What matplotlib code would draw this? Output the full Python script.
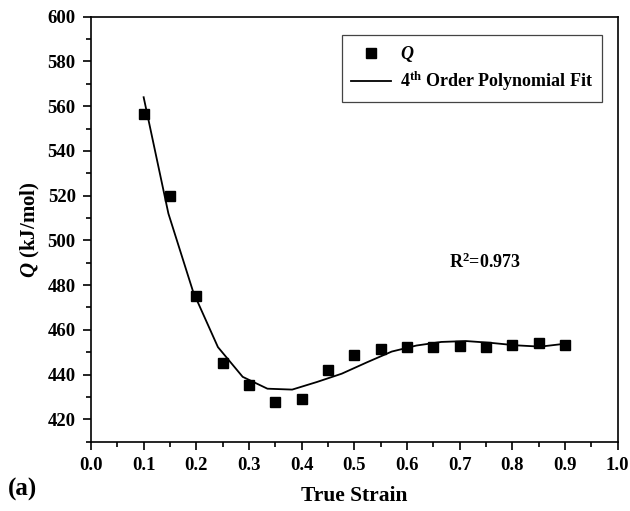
import numpy as np
import matplotlib
matplotlib.use("Agg")
import matplotlib.pyplot as plt
from matplotlib.ticker import MultipleLocator, FormatStrFormatter
from matplotlib.lines import Line2D

plt.rcParams['font.family'] = ['Liberation Serif', 'DejaVu Serif']
plt.rcParams['font.weight'] = 'bold'
plt.rcParams['mathtext.fontset'] = 'custom'
plt.rcParams['mathtext.rm'] = 'Liberation Serif:bold'
plt.rcParams['mathtext.bf'] = 'Liberation Serif:bold'
plt.rcParams['mathtext.it'] = 'Liberation Serif:bold:italic'

# measured Q values
strain = [0.10, 0.15, 0.20, 0.25, 0.30, 0.35, 0.40, 0.45, 0.50,
          0.55, 0.60, 0.65, 0.70, 0.75, 0.80, 0.85, 0.90]
q_vals = [556.5, 520.0, 475.0, 445.2, 435.4, 427.9, 428.9, 441.9, 448.8,
          451.6, 452.5, 452.5, 452.6, 452.5, 453.4, 454.3, 453.4]

# 4th order polynomial fit curve (as drawn)
fit_x = [0.100, 0.147, 0.194, 0.241, 0.288, 0.335, 0.382, 0.429, 0.476,
         0.524, 0.571, 0.618, 0.665, 0.712, 0.759, 0.806, 0.853, 0.900]
fit_y = [564.0, 512.0, 477.0, 452.3, 439.0, 433.7, 433.3, 436.7, 440.4,
         445.5, 450.3, 453.0, 454.6, 455.0, 454.2, 453.1, 452.5, 453.8]

fig = plt.figure(figsize=(6.3, 5.11), dpi=100)
ax = fig.add_axes([0.1444, 0.1356, 0.8361, 0.8317])

ax.plot(fit_x, fit_y, color='black', lw=1.3, zorder=2)
ax.plot(strain, q_vals, 's', color='black', ms=7, zorder=3)

ax.set_xlim(0.0, 1.0)
ax.set_ylim(410, 600)
ax.xaxis.set_major_locator(MultipleLocator(0.1))
ax.xaxis.set_minor_locator(MultipleLocator(0.05))
ax.yaxis.set_minor_locator(MultipleLocator(10))
ax.set_yticks(np.arange(420, 601, 20))
ax.xaxis.set_major_formatter(FormatStrFormatter('%.1f'))

ax.tick_params(which='major', direction='out', length=6, width=1.2,
               labelsize=13.5, pad=5)
ax.tick_params(which='minor', direction='out', length=3.5, width=1.2)
ax.tick_params(top=False, right=False, which='both')
for s in ax.spines.values():
    s.set_linewidth(1.2)
for lab in ax.get_xticklabels() + ax.get_yticklabels():
    lab.set_fontweight('bold')

ax.set_xlabel('True Strain', fontsize=15.5, fontweight='bold', labelpad=9)
ax.set_ylabel('$Q$ (kJ/mol)', fontsize=15, fontweight='bold', labelpad=4)

handles = [Line2D([], [], marker='s', color='black', ls='none', ms=7),
           Line2D([], [], color='black', lw=1.3)]
leg = ax.legend(handles, ['$Q$', '4$^{\\rm th}$ Order Polynomial Fit'],
                loc='upper right', bbox_to_anchor=(0.97, 0.957),
                fancybox=False, edgecolor='#444444', framealpha=1,
                prop={'weight': 'bold', 'size': 13},
                handlelength=2.2, handletextpad=0.5, borderpad=0.5,
                labelspacing=0.3, borderaxespad=0)
leg.get_frame().set_linewidth(0.9)

ax.text(0.68, 490, 'R$^2$=0.973', fontsize=13, fontweight='bold',
        va='center', ha='left')

fig.text(0.012, 0.03, '(a)', fontsize=18, fontweight='bold')

fig.savefig('out.png', dpi=100)
